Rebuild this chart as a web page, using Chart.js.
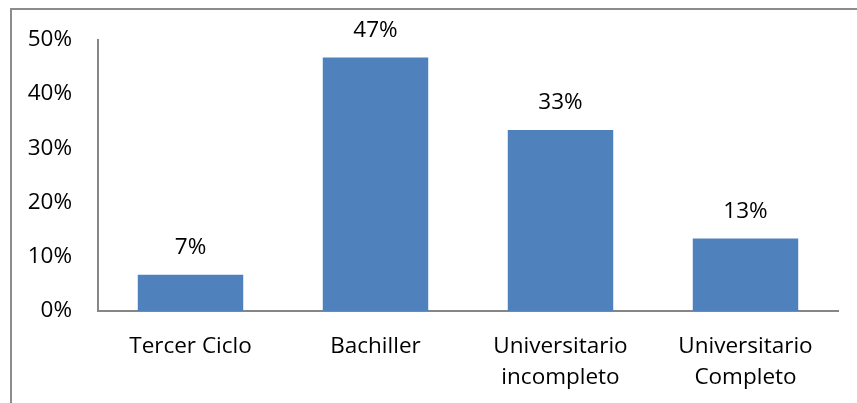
<!DOCTYPE html>
<html>
<head>
<meta charset="utf-8">
<script src="https://cdn.jsdelivr.net/npm/chart.js@4/dist/chart.umd.min.js"></script>
<style>
  html, body { margin: 0; padding: 0; background: #fff; overflow: hidden; }
  #frame { position: absolute; left: 10px; top: 8px; width: 900px; height: 500px; border: 2px solid #8c8c8c; box-sizing: border-box; }
  #wrap { position: absolute; left: 0; top: 0; width: 857px; height: 403px; }
</style>
</head>
<body>
<div id="frame"></div>
<div id="wrap"><canvas id="myChart"></canvas></div>
<script>
// datos
var categorias = [["Tercer Ciclo"], ["Bachiller"], ["Universitario", "incompleto"], ["Universitario", "Completo"]];
var porcentajes = [6.67, 46.67, 33.33, 13.33];
var etiquetas = ["7%", "47%", "33%", "13%"];
var ticksY = [0, 10, 20, 30, 40, 50];

var fuente = "'Open Sans', Lato, sans-serif";

// etiquetas encima de las barras
var etiquetasBarras = {
  id: "etiquetasBarras",
  afterDatasetsDraw: function (chart) {
    var ctx = chart.ctx;
    var meta = chart.getDatasetMeta(0);
    ctx.save();
    ctx.font = "22.5px " + fuente;
    ctx.fillStyle = "#000";
    ctx.textAlign = "center";
    ctx.textBaseline = "middle";
    meta.data.forEach(function (bar, i) {
      ctx.fillText(etiquetas[i], bar.x, bar.y - 27);
    });
    ctx.restore();
  },
};

var ctx = document.getElementById("myChart").getContext("2d");
var chart = new Chart(ctx, {
  type: "bar",
  data: {
    labels: categorias,
    datasets: [
      {
        data: porcentajes,
        backgroundColor: "#4f81bd",
        borderWidth: 0,
        categoryPercentage: 1,
        barPercentage: 0.57,
      },
    ],
  },
  options: {
    responsive: true,
    maintainAspectRatio: false,
    animation: false,
    layout: { padding: { left: 10, right: 19, top: 39, bottom: 0 } },
    plugins: { legend: { display: false }, tooltip: { enabled: false } },
    scales: {
      x: {
        afterFit: function (scale) { scale.height = 92; },
        grid: { display: false, drawTicks: false },
        border: { display: true, color: "#868686", width: 2 },
        ticks: { color: "#000", font: { family: fuente, size: 22.5, lineHeight: 1.38 }, padding: 20, maxRotation: 0 },
      },
      y: {
        min: 0,
        max: 50,
        afterFit: function (scale) { scale.width = 88; },
        afterBuildTicks: function (scale) {
          scale.ticks = ticksY.map(function (v) { return { value: v }; });
        },
        grid: { display: false, drawTicks: false },
        border: { display: true, color: "#868686", width: 2 },
        ticks: {
          color: "#000",
          font: { family: fuente, size: 22.5 },
          padding: 26,
          callback: function (v) { return v + "%"; },
        },
      },
    },
  },
  plugins: [etiquetasBarras],
});
</script>
</body>
</html>
